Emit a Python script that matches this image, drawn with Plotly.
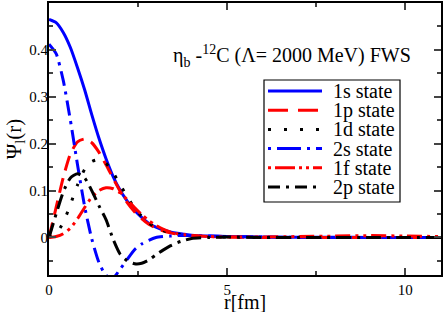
import plotly.graph_objects as go

# radial grid [fm]
r = [0, 0.2, 0.4, 0.6, 0.8, 1.0, 1.2, 1.4, 1.6, 1.8, 2.0, 2.2, 2.4, 2.6, 2.8, 3.0,
     3.2, 3.4, 3.6, 3.8, 4.0, 4.5, 5, 6, 7, 8, 9, 10, 11]

psi_1s = [0.465, 0.458, 0.437, 0.405, 0.362, 0.315, 0.262, 0.212, 0.168, 0.130, 0.100,
          0.077, 0.058, 0.043, 0.030, 0.022, 0.016, 0.012, 0.009, 0.007, 0.005, 0.003,
          0.002, 0.001, 0.0005, 0.0003, 0.0002, 0.0002, 0.0001]
psi_1p = [0.0, 0.064, 0.128, 0.178, 0.204, 0.210, 0.202, 0.182, 0.155, 0.126, 0.098,
          0.074, 0.055, 0.040, 0.028, 0.020, 0.014, 0.010, 0.007, 0.005, 0.004, 0.002,
          0.001, 0.0, 0.0, 0.0, 0.0, 0.0, 0.0]
psi_1d = [0.0, 0.008, 0.032, 0.070, 0.112, 0.145, 0.162, 0.166, 0.158, 0.138, 0.112,
          0.086, 0.063, 0.045, 0.031, 0.021, 0.015, 0.010, 0.007, 0.005, 0.003, 0.002,
          0.001, 0.0, 0.0, 0.0, 0.0, 0.0, 0.0]
psi_2s = [0.412, 0.392, 0.335, 0.250, 0.155, 0.066, -0.003, -0.053, -0.081, -0.086, -0.067,
          -0.046, -0.026, -0.014, -0.006, 0.0, 0.002, 0.003, 0.004, 0.004, 0.004, 0.003,
          0.002, 0.001, 0.0005, 0.0, 0.0, 0.0, 0.0]
psi_1f = [0.0, 0.002, 0.008, 0.020, 0.040, 0.064, 0.086, 0.100, 0.106, 0.104, 0.095,
          0.080, 0.064, 0.049, 0.036, 0.026, 0.018, 0.012, 0.008, 0.006, 0.004, 0.002,
          0.001, 0.001, 0.002, 0.003, 0.004, 0.003, 0.002]
psi_2p = [0.0, 0.050, 0.097, 0.127, 0.136, 0.127, 0.100, 0.068, 0.038, -0.004, -0.036,
          -0.050, -0.056, -0.055, -0.048, -0.037, -0.027, -0.018, -0.011, -0.006, -0.002, 0.0,
          0.001, 0.0, 0.0, 0.0, 0.0, 0.0, 0.0]

names = ["1s state", "1p state", "1d state", "2s state", "1f state", "2p state"]
series = [psi_1s, psi_1p, psi_1d, psi_2s, psi_1f, psi_2p]
colors = ["#0000ff", "#ff0000", "#000000", "#0000ff", "#ff0000", "#000000"]
dashes = ["solid", "15px,8px", "3px,12px", "15px,6px,3px,6px",
          "15px,5px,3px,5px,3px,5px", "15px,6px,3px,6px"]
legend_dashes = ["solid", "20px,10px", "3px,13px", "3px,6px,24px,6px",
                 "3px,4px,20px,4px,3px,4px", "12px,6px,3px,6px"]

FONT = "Liberation Serif"

fig = go.Figure()
for name, y, c, d in zip(names, series, colors, dashes):
    fig.add_trace(go.Scatter(x=r, y=y, mode="lines", name=name, showlegend=False,
                             line=dict(color=c, width=3, dash=d, shape="spline", smoothing=0.6)))

# legend box drawn as shapes + text (paper coordinates)
W, H, ML, MB = 444, 312, 49, 37
pw, ph = W - ML - 3, H - MB - 3
def px_x(x):
    return (x - ML) / pw
def px_y(y):
    return (H - MB - y) / ph

shapes = [dict(type="rect", xref="paper", yref="paper",
               x0=px_x(264), x1=px_x(400), y0=px_y(202), y1=px_y(80),
               line=dict(color="black", width=1.2), fillcolor="white", layer="above")]
annotations = [dict(text="η<sub>b</sub> -<sup>12</sup>C (Λ= 2000 MeV) FWS",
                    x=px_x(171), y=px_y(56), xref="paper", yref="paper",
                    xanchor="left", yanchor="middle", showarrow=False,
                    font=dict(family=FONT, size=20)),
               dict(text="r[fm]", x=0.5, y=px_y(302), xref="paper", yref="paper",
                    xanchor="center", yanchor="middle", showarrow=False,
                    font=dict(family=FONT, size=20))]
for i, (name, c, d) in enumerate(zip(names, colors, legend_dashes)):
    yy = 91 + 19.2 * i
    shapes.append(dict(type="line", xref="paper", yref="paper",
                       x0=px_x(268), x1=px_x(322), y0=px_y(yy), y1=px_y(yy),
                       line=dict(color=c, width=3, dash=d), layer="above"))
    annotations.append(dict(text=name, x=px_x(331), y=px_y(yy), xref="paper", yref="paper",
                            xanchor="left", yanchor="middle", showarrow=False,
                            font=dict(family=FONT, size=20)))

fig.update_layout(
    width=W, height=H,
    margin=dict(l=ML, r=3, t=3, b=MB),
    paper_bgcolor="white", plot_bgcolor="white",
    font=dict(family=FONT, color="black", size=15),
    showlegend=False,
    shapes=shapes,
    annotations=annotations,
)
fig.update_xaxes(range=[0, 11], tickvals=[0, 5, 10], ticks="inside", ticklen=7, tickwidth=1.5,
                 showline=True, linecolor="black", linewidth=2, mirror="ticks",
                 showgrid=False, zeroline=False, automargin=False,
                 minor=dict(dtick=2.5, tick0=0, ticks="inside", ticklen=4, tickwidth=1.5, showgrid=False),
                 tickfont=dict(family=FONT, size=15))
fig.update_yaxes(range=[-0.08, 0.5], tickvals=[0, 0.1, 0.2, 0.3, 0.4],
                 ticktext=["0", "0.1", "0.2", "0.3", "0.4"],
                 ticks="inside", ticklen=7, tickwidth=1.5, ticklabelstandoff=-4,
                 showline=True, linecolor="black", linewidth=2, mirror="ticks",
                 showgrid=False, zeroline=False, automargin=False,
                 minor=dict(dtick=0.05, tick0=0, ticks="inside", ticklen=4, tickwidth=1.5, showgrid=False),
                 title=dict(text="Ψ<sub>l</sub>(r)", font=dict(family=FONT, size=21), standoff=2),
                 tickfont=dict(family=FONT, size=15))

fig.write_html("out.html", config={"displayModeBar": False},
               post_script="document.body.style.margin='0';")
